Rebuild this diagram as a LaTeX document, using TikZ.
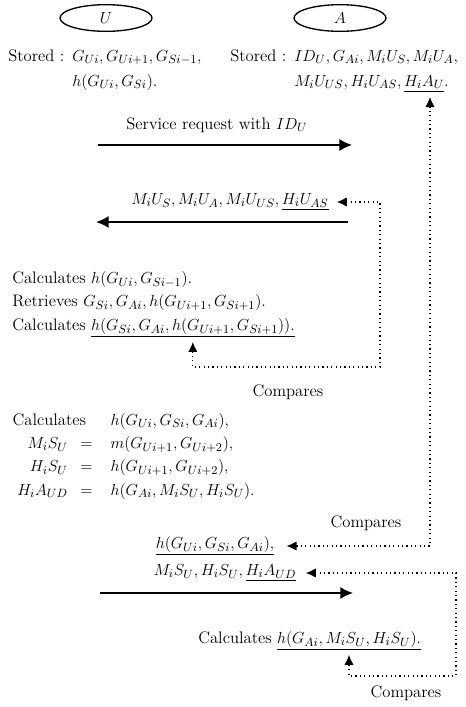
\documentclass[tikz,border=0pt,12pt]{standalone}
\usepackage{tikz}
\usepackage{amsmath}
\usetikzlibrary{shapes.geometric,arrows.meta}
\tikzstyle{party}=[ellipse,draw,line width=1pt,minimum width=69pt,minimum height=20pt,inner sep=0pt]
\tikzstyle{lbl}=[inner sep=0pt]
\tikzstyle{msg}=[line width=1.1pt,-{Latex[length=9.5pt,width=9pt]}]
\tikzstyle{cmp}=[line width=0.9pt,dash pattern=on 0.9pt off 2.4pt,{Latex[length=7.5pt,width=7pt]}-{Latex[length=7.5pt,width=7pt]}]

\begin{document}
\begin{tikzpicture}[x=0.75pt,y=-0.75pt,font=\fontsize{12.5}{15}\selectfont]
\useasboundingbox (0,0) rectangle (466,707);

\node[party] (u) at (106,18) {$U$};
\node[party] (a) at (340,18) {$A$};

\node[lbl,anchor=base west] (su) at (8,61) {\begin{tabular}[t]{@{}p{48pt}@{}l@{}}Stored :&$G_{Ui},G_{Ui+1},G_{Si-1},$\\[3.75pt]&$h(G_{Ui},G_{Si})$.\end{tabular}};
\node[lbl,anchor=base west] (sa) at (230,61) {\begin{tabular}[t]{@{}p{48pt}@{}l@{}}Stored :&$ID_U,G_{Ai},M_iU_S,M_iU_A,$\\[3.75pt]&$M_iU_{US},H_iU_{AS},\underline{H_iA_U}$.\end{tabular}};
\coordinate (hau) at (430,97);

\coordinate (u1) at (98,145);
\coordinate (a1) at (352,145);
\draw[msg] (u1) -- (a1);
\node[lbl] (req) at (217,125) {Service request with $ID_U$};

\coordinate (a2) at (348,222);
\coordinate (u2) at (96,222);
\draw[msg] (a2) -- (u2);
\node[lbl] (rep) at (230,202) {$M_iU_S,M_iU_A,M_iU_{US},\underline{H_iU_{AS}}$};

\node[lbl,anchor=mid west] (c1) at (12,280) {Calculates $h(G_{Ui},G_{Si-1})$.};
\node[lbl,anchor=mid west] (c2) at (12,303) {Retrieves $G_{Si},G_{Ai},h(G_{Ui+1},G_{Si+1})$.};
\node[lbl,anchor=mid west] (c3) at (12,327) {Calculates};
\node[lbl,anchor=base west] (hc) at ([xshift=3.5pt]c3.base east) {$\underline{h(G_{Si},G_{Ai},h(G_{Ui+1},G_{Si+1})).}$};
\draw[cmp] ([xshift=6pt]rep.east) -| (380,367) -| ([yshift=-3pt]hc.south);
\node[lbl] (cmp1) at (288,392) {Compares};

\node[lbl,anchor=base west] (eq) at (17,425) {$\begin{array}[t]{@{}r@{\hspace{9.5pt}}c@{\hspace{13.5pt}}l@{}}\multicolumn{2}{@{}l}{\hspace*{-3.5pt}\text{Calculates}}&h(G_{Ui},G_{Si},G_{Ai}),\\[2.5pt]
M_iS_U&=&m(G_{Ui+1},G_{Ui+2}),\\[2.5pt]
H_iS_U&=&h(G_{Ui+1},G_{Ui+2}),\\[2.5pt]
H_iA_{UD}&=&h(G_{Ai},M_iS_U,H_iS_U).\end{array}$};

\node[lbl] (cmp2) at (366,523) {Compares};
\node[lbl] (hv) at (215,546) {$\underline{h(G_{Ui},G_{Si},G_{Ai}),}$};
\draw[cmp] (hau) |- ([xshift=9pt]hv.east);

\node[lbl] (rs) at (225,573) {$M_iS_U,H_iS_U,\underline{H_iA_{UD}}$};
\coordinate (u3) at (100,593);
\coordinate (a3) at (353,593);
\draw[msg] (u3) -- (a3);

\node[lbl,anchor=mid west] (c4) at (198,640) {Calculates};
\node[lbl,anchor=base west] (hd) at ([xshift=3.5pt]c4.base east) {$\underline{h(G_{Ai},M_iS_U,H_iS_U).}$};
\draw[cmp] ([xshift=7pt]rs.east) -| (456,676) -| ([yshift=-3pt]hd.south);
\node[lbl] (cmp3) at (406,693) {Compares};
\end{tikzpicture}
\end{document}
